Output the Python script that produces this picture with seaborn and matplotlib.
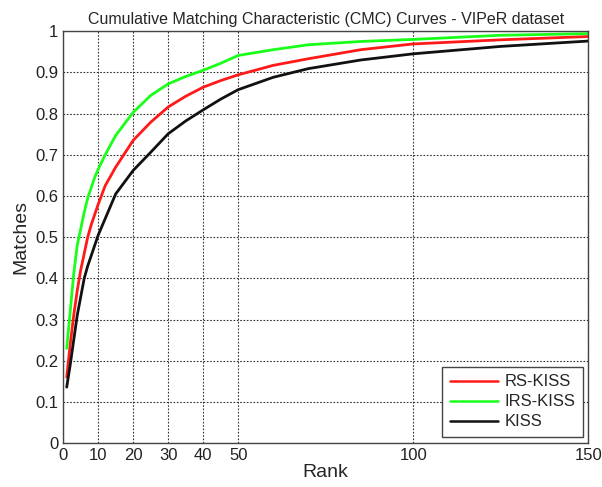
import numpy as np
import pandas as pd
import seaborn as sns
import matplotlib.pyplot as plt

# values
ranks = [1, 2, 3, 4, 5, 6, 7, 8, 9, 10, 12, 15, 20, 25, 30, 35, 40, 45, 50,
         60, 70, 85, 100, 125, 150]
rs_kiss = [0.16, 0.24, 0.31, 0.37, 0.42, 0.46, 0.50, 0.53, 0.555, 0.58,
           0.625, 0.67, 0.735, 0.779, 0.816, 0.842, 0.864, 0.88, 0.894,
           0.917, 0.933, 0.955, 0.969, 0.979, 0.987]
irs_kiss = [0.23, 0.32, 0.41, 0.48, 0.52, 0.56, 0.595, 0.62, 0.645, 0.665,
            0.70, 0.747, 0.803, 0.844, 0.872, 0.89, 0.905, 0.922, 0.941,
            0.955, 0.967, 0.975, 0.98, 0.99, 0.994]
kiss = [0.136, 0.19, 0.25, 0.31, 0.355, 0.40, 0.43, 0.455, 0.48, 0.505,
        0.545, 0.605, 0.662, 0.706, 0.751, 0.782, 0.809, 0.835, 0.858,
        0.888, 0.909, 0.93, 0.945, 0.963, 0.976]
methods = ['RS-KISS', 'IRS-KISS', 'KISS']
colors = ['#ff1a1a', '#1aff1a', '#111111']
xticks = [0, 10, 20, 30, 40, 50, 100, 150]

df = pd.DataFrame({
    'Rank': ranks * 3,
    'Matches': rs_kiss + irs_kiss + kiss,
    'Method': [m for m in methods for _ in ranks],
})

sns.set_style('white')
plt.rcParams['font.family'] = ['Liberation Sans', 'DejaVu Sans']

fig = plt.figure(figsize=(6.02, 4.87), dpi=100)
ax = fig.add_axes([0.105, 0.09, 0.872, 0.846])

sns.lineplot(data=df, x='Rank', y='Matches', hue='Method', hue_order=methods,
             palette=colors, linewidth=2, ax=ax)

ax.set_xlim(0, 150)
ax.set_ylim(0, 1)
ax.set_xticks(xticks)
ax.set_xticklabels([str(t) for t in xticks])
ax.set_yticks(np.arange(0, 1.01, 0.1))
ax.set_yticklabels(['0'] + ['%.1f' % v for v in np.arange(0.1, 0.95, 0.1)] + ['1'])
ax.tick_params(direction='in', length=4, labelsize=12, colors='#222222')
ax.grid(True, linestyle=(0, (1.5, 1.5)), color='#333333', linewidth=0.8)
for s in ax.spines.values():
    s.set_color('#444444')
    s.set_linewidth(1)

ax.set_xlabel('Rank', fontsize=14, labelpad=1)
ax.set_ylabel('Matches', fontsize=14, labelpad=4)
ax.set_title('Cumulative Matching Characteristic (CMC) Curves - VIPeR dataset',
             fontsize=11.5, pad=5)

leg = ax.legend(loc='lower right', fontsize=12, frameon=True, fancybox=False,
                framealpha=1, edgecolor='#444444', handlelength=2.9,
                handletextpad=0.4, borderpad=0.45, labelspacing=0.3,
                borderaxespad=0, bbox_to_anchor=(0.99, 0.015))
for line in leg.get_lines():
    line.set_linewidth(1.8)

fig.savefig('out.png', dpi=100)
